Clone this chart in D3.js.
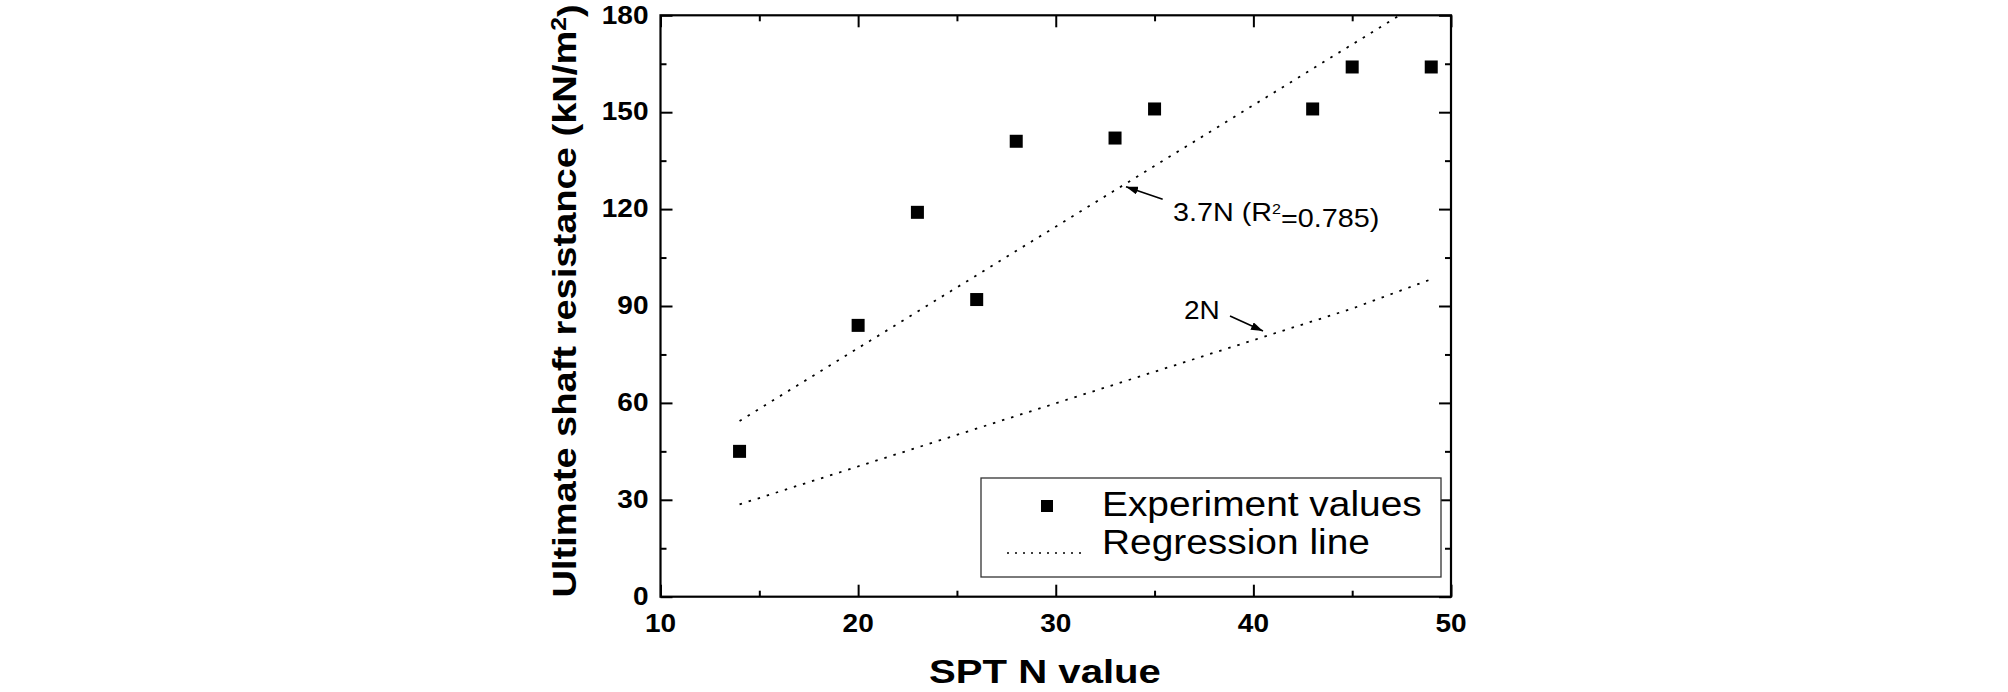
<!DOCTYPE html>
<html>
<head>
<meta charset="utf-8">
<script src="https://cdn.jsdelivr.net/npm/d3@7"></script>
<style>
    body { margin: 0; background: #fff; }
    svg text { font-family: "Liberation Sans", Arial, sans-serif; fill: #000; }
</style>
</head>
<body>
<svg id="shaftChart"></svg>
<script>
// SPT N value vs measured ultimate shaft resistance (kN/m2)
var sptN = [14, 20, 23, 26, 28, 33, 35, 43, 45, 49];
var shaftResistance = [45, 84, 119, 92, 141, 142, 151, 151, 164, 164];

// dotted regression lines
var line37N = [14, 47.4];
var line37Q = [54.4, 180];
var line2N = [14, 45, 49];
var line2Q = [28.6, 89.2, 98.3];

var xTicks = [10, 20, 30, 40, 50];
var xMinorTicks = [15, 25, 35, 45];
var yTicks = [0, 30, 60, 90, 120, 150, 180];
var yMinorTicks = [15, 45, 75, 105, 135, 165];

var legendLabels = ["Experiment values", "Regression line"];

drawChart('#shaftChart');

function drawChart(svgElementID) {

    var left = 660.5, right = 1451, top = 15.3, bottom = 596.7;
    var stretch = 1.12;   // the original text is a bit wide
    var dots = "2.5,7";

    var x = d3.scaleLinear().domain([10, 50]).range([left, right]);
    var y = d3.scaleLinear().domain([0, 180]).range([bottom, top]);

    var chart = d3.select(svgElementID)
        .attr("width", 2008)
        .attr("height", 692);

    chart.append("clipPath").attr("id", "plotClip")
        .append("rect")
        .attr("x", left).attr("y", top)
        .attr("width", right - left).attr("height", bottom - top);

    // ------------------------------------------------------------
    // ticks, all pointing inwards
    function tickAxis(axis, values, size, tx, ty) {
        var g = chart.append("g")
            .attr("transform", "translate(" + tx + "," + ty + ")")
            .call(axis.tickValues(values).tickSizeInner(size).tickSizeOuter(0).tickFormat(""));
        g.select(".domain").remove();
        g.selectAll("line").attr("stroke", "#000").attr("stroke-width", 2);
    }
    tickAxis(d3.axisBottom(x), xTicks, -12, 0, bottom);
    tickAxis(d3.axisBottom(x), xMinorTicks, -6, 0, bottom);
    tickAxis(d3.axisTop(x), xTicks, -12, 0, top);
    tickAxis(d3.axisTop(x), xMinorTicks, -6, 0, top);
    tickAxis(d3.axisLeft(y), yTicks, -12, left, 0);
    tickAxis(d3.axisLeft(y), yMinorTicks, -6, left, 0);
    tickAxis(d3.axisRight(y), yTicks, -12, right, 0);
    tickAxis(d3.axisRight(y), yMinorTicks, -6, right, 0);

    chart.append("rect")
        .attr("x", left).attr("y", top)
        .attr("width", right - left).attr("height", bottom - top)
        .attr("fill", "none")
        .attr("stroke", "#000")
        .attr("stroke-width", 2.2);

    // tick labels
    chart.selectAll(".xlab")
        .data(xTicks)
        .enter().append("text")
        .attr("class", "xlab")
        .attr("transform", function (d) { return "translate(" + x(d) + "," + (bottom + 35) + ") scale(" + stretch + ",1)"; })
        .attr("text-anchor", "middle")
        .style("font-size", "25px")
        .style("font-weight", "bold")
        .text(function (d) { return d; });

    chart.selectAll(".ylab")
        .data(yTicks)
        .enter().append("text")
        .attr("class", "ylab")
        .attr("transform", function (d) { return "translate(" + (left - 12) + "," + y(d) + ") scale(" + stretch + ",1)"; })
        .attr("dy", "0.33em")
        .attr("text-anchor", "end")
        .style("font-size", "25px")
        .style("font-weight", "bold")
        .text(function (d) { return d; });

    // axis titles
    chart.append("text")
        .attr("transform", "translate(1045,683) scale(1.18,1)")
        .attr("text-anchor", "middle")
        .style("font-size", "34px")
        .style("font-weight", "bold")
        .text("SPT N value");

    var yTitle = chart.append("text")
        .attr("transform", "translate(576,301) rotate(-90) scale(" + stretch + ",1)")
        .attr("text-anchor", "middle")
        .style("font-size", "34px")
        .style("font-weight", "bold");
    yTitle.append("tspan").text("Ultimate shaft resistance (kN/m");
    yTitle.append("tspan").attr("dy", "-0.45em").style("font-size", "22px").text("2");
    yTitle.append("tspan").attr("dy", "0.45em").text(")");

    // ------------------------------------------------------------
    // regression lines
    var regLine = d3.line()
        .x(function (d) { return x(d[0]); })
        .y(function (d) { return y(d[1]); });

    chart.append("path")
        .attr("d", regLine(d3.zip(line37N, line37Q)))
        .attr("clip-path", "url(#plotClip)")
        .attr("fill", "none")
        .attr("stroke", "#000")
        .attr("stroke-width", 1.8)
        .attr("stroke-dasharray", dots);

    chart.append("path")
        .attr("d", regLine(d3.zip(line2N, line2Q)))
        .attr("clip-path", "url(#plotClip)")
        .attr("fill", "none")
        .attr("stroke", "#000")
        .attr("stroke-width", 1.8)
        .attr("stroke-dasharray", dots);

    // experiment points
    var pointSize = 13;
    chart.selectAll(".pt")
        .data(d3.zip(sptN, shaftResistance))
        .enter().append("rect")
        .attr("class", "pt")
        .attr("x", function (d) { return x(d[0]) - pointSize / 2; })
        .attr("y", function (d) { return y(d[1]) - pointSize / 2; })
        .attr("width", pointSize)
        .attr("height", pointSize)
        .attr("fill", "#000");

    // ------------------------------------------------------------
    // annotations with arrows
    chart.append("defs").append("marker")
        .attr("id", "arrowHead")
        .attr("viewBox", "0 0 12 8")
        .attr("refX", 12).attr("refY", 4)
        .attr("markerWidth", 12).attr("markerHeight", 8)
        .attr("markerUnits", "userSpaceOnUse")
        .attr("orient", "auto")
        .append("path")
        .attr("d", "M0,0 L12,4 L0,8 Z")
        .attr("fill", "#000");

    chart.append("line")
        .attr("x1", 1162.7).attr("y1", 199.3)
        .attr("x2", 1126).attr("y2", 186.7)
        .attr("stroke", "#000").attr("stroke-width", 1.6)
        .attr("marker-end", "url(#arrowHead)");

    var lab37 = chart.append("text")
        .attr("transform", "translate(1173,221) scale(1.15,1)")
        .style("font-size", "25px");
    lab37.append("tspan").text("3.7N (R");
    lab37.append("tspan").attr("dy", "-0.5em").style("font-size", "14px").text("2");
    lab37.append("tspan").attr("dy", "0.5em").text("=0.785)");

    chart.append("line")
        .attr("x1", 1230).attr("y1", 316)
        .attr("x2", 1263).attr("y2", 331)
        .attr("stroke", "#000").attr("stroke-width", 1.6)
        .attr("marker-end", "url(#arrowHead)");

    chart.append("text")
        .attr("transform", "translate(1184,319) scale(" + stretch + ",1)")
        .style("font-size", "25px")
        .text("2N");

    // ------------------------------------------------------------
    // legend
    var legend = chart.append("g").attr("transform", "translate(981,478)");
    legend.append("rect")
        .attr("width", 460).attr("height", 99)
        .attr("fill", "#fff")
        .attr("stroke", "#333")
        .attr("stroke-width", 1.3);
    legend.append("rect")
        .attr("x", 60).attr("y", 22)
        .attr("width", 12).attr("height", 12)
        .attr("fill", "#000");
    legend.append("line")
        .attr("x1", 26).attr("x2", 104)
        .attr("y1", 75).attr("y2", 75)
        .attr("stroke", "#000").attr("stroke-width", 1.6)
        .attr("stroke-dasharray", "2,6");
    legend.selectAll(".legtext")
        .data(legendLabels)
        .enter().append("text")
        .attr("class", "legtext")
        .attr("transform", function (d, i) { return "translate(121," + (38 + i * 38) + ") scale(1.08,1)"; })
        .style("font-size", "36px")
        .text(function (d) { return d; });
}
</script>
</body>
</html>
